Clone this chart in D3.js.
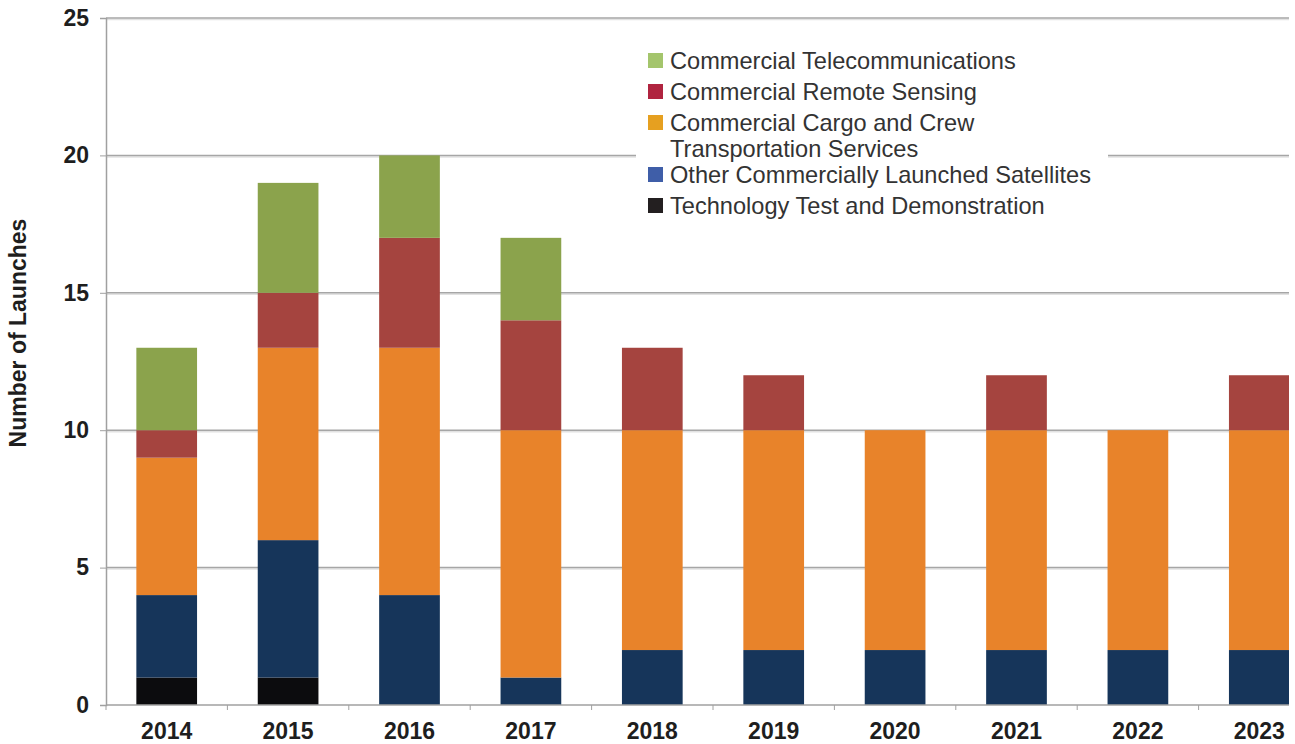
<!DOCTYPE html>
<html>
<head>
<meta charset="utf-8">
<script src="https://cdn.jsdelivr.net/npm/d3@7/dist/d3.min.js"></script>
<style>
  html, body { margin: 0; padding: 0; background: #ffffff; }
  svg { display: block; }
</style>
</head>
<body>
<svg id="chart" width="1295" height="744"></svg>
<script>
// Launch counts per year, stacked from the bottom up
const years = ["2014", "2015", "2016", "2017", "2018", "2019", "2020", "2021", "2022", "2023"];
const techDemo   = [1, 1, 0, 0, 0, 0, 0, 0, 0, 0];
const otherSats  = [3, 5, 4, 1, 2, 2, 2, 2, 2, 2];
const cargoCrew  = [5, 7, 9, 9, 8, 8, 8, 8, 8, 8];
const remoteSens = [1, 2, 4, 4, 3, 2, 0, 2, 0, 2];
const telecom    = [3, 4, 3, 3, 0, 0, 0, 0, 0, 0];
const yTicks = [0, 5, 10, 15, 20, 25];

// Legend entries (top to bottom)
const legendLabels = [
  ["Commercial Telecommunications"],
  ["Commercial Remote Sensing"],
  ["Commercial Cargo and Crew", "Transportation Services"],
  ["Other Commercially Launched Satellites"],
  ["Technology Test and Demonstration"]
];

const seriesKeys = ["tech", "other", "cargo", "remote", "telecom"];
const barColors = { tech: "#0c0c0e", other: "#16355a", cargo: "#e8832a", remote: "#a5443f", telecom: "#8ba34c" };
const legendColors = ["#a4c56c", "#b0243f", "#e6a020", "#3f5ea8", "#231f20"];

const rows = years.map((y, i) => ({
  year: y, tech: techDemo[i], other: otherSats[i], cargo: cargoCrew[i],
  remote: remoteSens[i], telecom: telecom[i]
}));

const svg = d3.select("#chart");
const plotLeft = 106, plotRight = 1320, plotTop = 18, plotBottom = 705, clipRight = 1289;
const font = "Liberation Sans, Arial, Helvetica, sans-serif";

const x = d3.scaleBand().domain(years).range([plotLeft, plotRight]).paddingInner(0.5).paddingOuter(0.25);
const y = d3.scaleLinear().domain([0, 25]).range([plotBottom, plotTop]);

svg.append("defs").append("clipPath").attr("id", "plotClip")
  .append("rect").attr("x", 0).attr("y", 0).attr("width", clipRight).attr("height", 744);

const plot = svg.append("g").attr("clip-path", "url(#plotClip)");

// Horizontal gridlines with a soft shadow beneath
const gridVals = yTicks.filter(v => v > 0);
plot.append("g").selectAll("line.shadow").data(gridVals).join("line")
  .attr("x1", plotLeft).attr("x2", plotRight)
  .attr("y1", d => y(d) + 1.5).attr("y2", d => y(d) + 1.5)
  .attr("stroke", "#e2e2e2").attr("stroke-width", 1.5);
plot.append("g").selectAll("line.grid").data(gridVals).join("line")
  .attr("x1", plotLeft).attr("x2", plotRight)
  .attr("y1", d => y(d)).attr("y2", d => y(d))
  .attr("stroke", "#a6a6a6").attr("stroke-width", 1.5);

// Stacked bars
const stack = d3.stack().keys(seriesKeys)(rows);
plot.append("g").selectAll("g").data(stack).join("g")
  .attr("fill", d => barColors[d.key])
  .selectAll("rect").data(d => d.filter(s => s[1] > s[0])).join("rect")
  .attr("x", d => x(d.data.year))
  .attr("width", x.bandwidth())
  .attr("y", d => y(d[1]))
  .attr("height", d => y(d[0]) - y(d[1]));

// Y axis
const yAxis = svg.append("g").attr("transform", `translate(${plotLeft},0)`)
  .call(d3.axisLeft(y).tickValues(yTicks).tickSize(6).tickPadding(11).tickFormat(d3.format("d")));
yAxis.select(".domain").attr("stroke", "#a0a0a0").attr("stroke-width", 1.5);
yAxis.selectAll(".tick line").attr("stroke", "#a0a0a0").attr("stroke-width", 1);
yAxis.selectAll(".tick text")
  .attr("font-family", font)
  .attr("font-weight", "bold").attr("font-size", 23).attr("fill", "#1e1e1e");

// X axis baseline and separators between years
const sepPositions = years.map(yr => x(yr) - x.step() * x.paddingInner() / 2);
const xg = svg.append("g").attr("clip-path", "url(#plotClip)");
xg.append("line").attr("x1", plotLeft).attr("x2", plotRight)
  .attr("y1", plotBottom).attr("y2", plotBottom)
  .attr("stroke", "#a0a0a0").attr("stroke-width", 1.5);
xg.selectAll("line.sep").data(sepPositions).join("line")
  .attr("x1", d => d).attr("x2", d => d)
  .attr("y1", plotBottom).attr("y2", plotBottom + 5)
  .attr("stroke", "#a0a0a0").attr("stroke-width", 1);

svg.append("g").selectAll("text").data(years).join("text")
  .attr("x", d => x(d) + x.bandwidth() / 2)
  .attr("y", 739)
  .attr("text-anchor", "middle")
  .attr("font-family", font)
  .attr("font-weight", "bold").attr("font-size", 23).attr("fill", "#1e1e1e")
  .text(d => d);

// Y axis title
svg.append("text")
  .attr("transform", `translate(26,333) rotate(-90)`)
  .attr("text-anchor", "middle")
  .attr("font-family", font)
  .attr("font-weight", "bold").attr("font-size", 23).attr("fill", "#1e1e1e")
  .text("Number of Launches");

// Legend on a white panel
const legend = svg.append("g");
legend.append("rect").attr("x", 636).attr("y", 40).attr("width", 472).attr("height", 186).attr("fill", "#ffffff");
const rowY = [61, 92, 123, 175, 206];
legendLabels.forEach((lines, i) => {
  legend.append("rect").attr("x", 648).attr("y", rowY[i] - 8).attr("width", 15).attr("height", 15)
    .attr("fill", legendColors[i]);
  lines.forEach((t, j) => {
    legend.append("text")
      .attr("x", 670).attr("y", rowY[i] + 8 + j * 26)
      .attr("font-family", font)
      .attr("font-size", 23.6).attr("fill", "#333333")
      .text(t);
  });
});
</script>
</body>
</html>
